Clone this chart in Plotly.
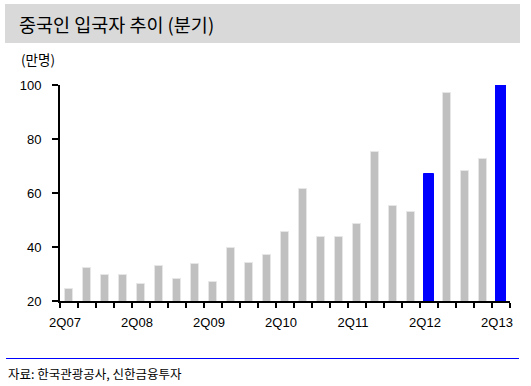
import plotly.graph_objects as go

quarters = ["2Q07","3Q07","4Q07","1Q08","2Q08","3Q08","4Q08","1Q09","2Q09","3Q09","4Q09","1Q10",
            "2Q10","3Q10","4Q10","1Q11","2Q11","3Q11","4Q11","1Q12","2Q12","3Q12","4Q12","1Q13","2Q13"]
visitors = [24.5, 32.3, 29.5, 29.5, 26.4, 32.8, 28.1, 33.6, 26.9, 39.5, 34.1, 37.2,
            45.5, 61.6, 43.6, 43.6, 48.4, 75.3, 55.1, 52.8, 67.0, 97.0, 68.3, 72.5, 100.0]
highlight = ["2Q12", "2Q13"]
tick_labels = ["2Q07", "2Q08", "2Q09", "2Q10", "2Q11", "2Q12", "2Q13"]

colors = ["#0000FF" if q in highlight else "#C0C0C0" for q in quarters]
widths = [0.56 if q in highlight else 0.44 for q in quarters]
line_colors = ["#0000FF" if q in highlight else "#E6E6E6" for q in quarters]

W, H = 531, 386
L, R, T, B = 60, 21, 85, 85
pw, ph = W - L - R, H - T - B

def px(x):
    return (x - L) / pw

def py(y):
    return (H - B - y) / ph

fig = go.Figure()
fig.add_trace(go.Bar(
    x=quarters, y=visitors, width=widths,
    marker=dict(color=colors, line=dict(color=line_colors, width=1)),
    hoverinfo="x+y",
))

FONT = "Arial, Liberation Sans, Noto Sans CJK KR, sans-serif"
KFONT = "Noto Sans CJK KR, Malgun Gothic, sans-serif"

fig.update_layout(
    width=W, height=H,
    margin=dict(l=L, r=R, t=T, b=B, autoexpand=False),
    paper_bgcolor="white", plot_bgcolor="white",
    showlegend=False,
    bargap=0,
    xaxis=dict(
        type="category",
        tickmode="array",
        tickvals=quarters,
        ticktext=[q if q in tick_labels else "" for q in quarters],
        tickson="boundaries",
        tickangle=0,
        ticks="outside", ticklen=5, tickwidth=2, tickcolor="black",
        showline=True, linecolor="black", linewidth=2,
        showgrid=False,
        tickfont=dict(family=FONT, size=13, color="black"),
        ticklabelshift=-4,
        ticklabelstandoff=8,
        range=[-0.5, 24.5],
        automargin=False,
    ),
    yaxis=dict(
        range=[20, 100],
        tickvals=[20, 40, 60, 80, 100],
        ticks="outside", ticklen=6, tickwidth=2, tickcolor="black",
        showline=True, linecolor="black", linewidth=2,
        showgrid=False, zeroline=False,
        tickfont=dict(family=FONT, size=13, color="black"),
        ticklabelstandoff=8,
        automargin=False,
    ),
)

shapes = [
    dict(type="rect", xref="paper", yref="paper",
         x0=px(5), x1=px(520), y0=py(43), y1=py(4),
         fillcolor="#D9D9D9", line=dict(width=0), layer="below"),
    dict(type="line", xref="paper", yref="paper",
         x0=px(6), x1=px(519), y0=py(358.5), y1=py(358.5),
         line=dict(color="#0000FF", width=1)),
]
fig.update_layout(shapes=shapes)

fig.add_annotation(text="중국인 입국자 추이 (분기)", xref="paper", yref="paper",
                   x=px(17), y=py(24), xanchor="left", yanchor="middle",
                   showarrow=False, font=dict(family=KFONT, size=18.5, color="black"))
fig.add_annotation(text="(만명)", xref="paper", yref="paper",
                   x=px(19), y=py(59), xanchor="left", yanchor="middle",
                   showarrow=False, font=dict(family=KFONT, size=13.5, color="black"))
fig.add_annotation(text="자료: 한국관광공사, 신한금융투자", xref="paper", yref="paper",
                   x=px(6), y=py(373), xanchor="left", yanchor="middle",
                   showarrow=False, font=dict(family=KFONT, size=12.5, color="black"))

fig.write_html("out.html", config={"displayModeBar": False},
               post_script="document.body.style.margin='0';document.body.style.overflow='hidden';")
